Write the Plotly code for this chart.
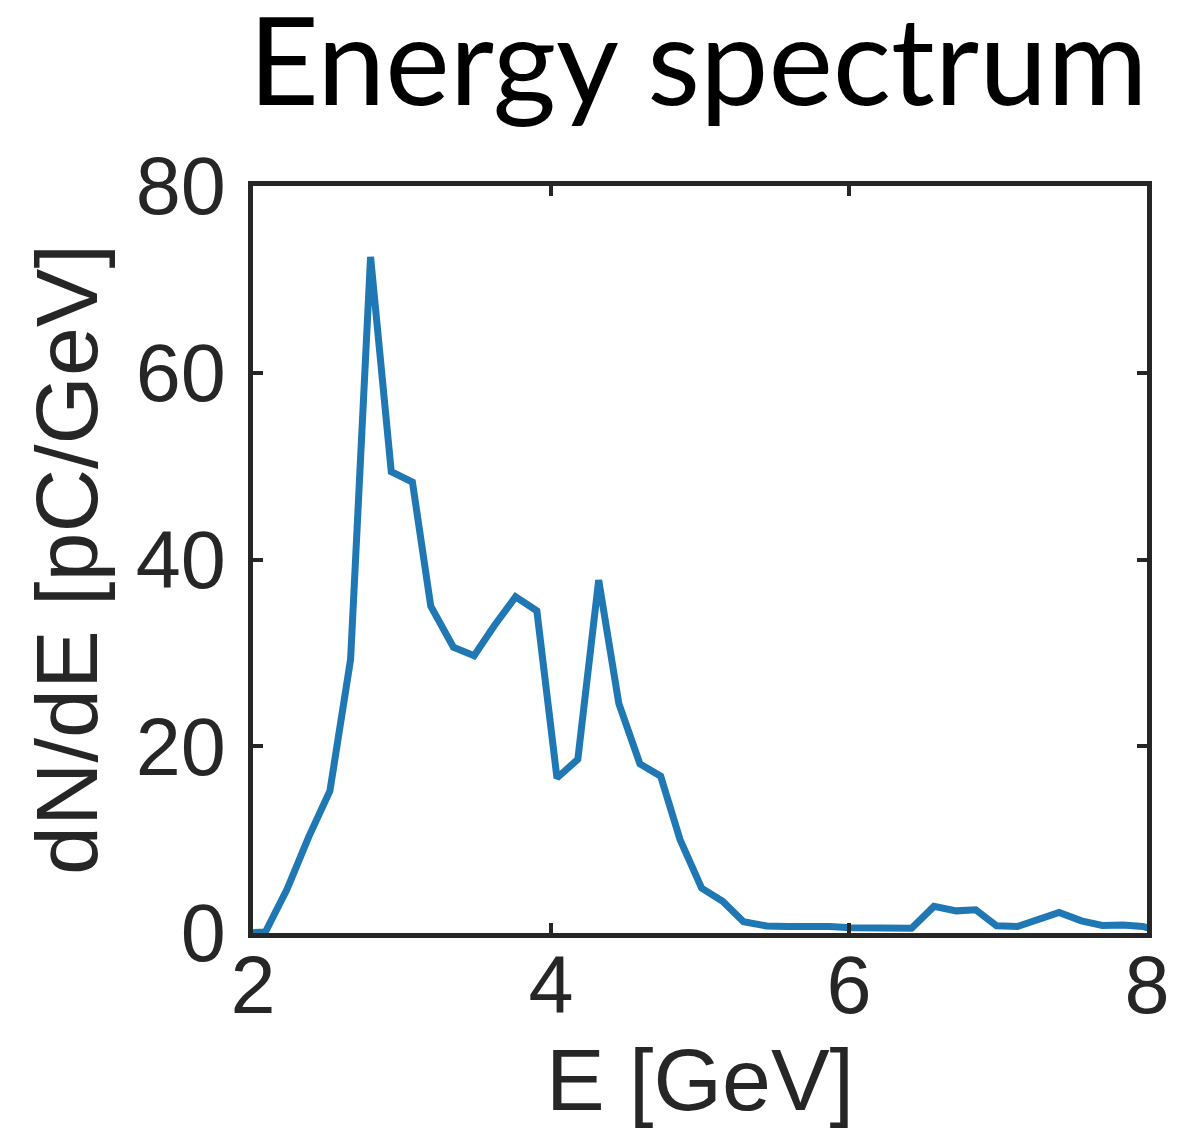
import plotly.graph_objects as go

energy_gev = [1.95, 2.083, 2.229, 2.374, 2.516, 2.655, 2.789, 2.928, 3.07, 3.193,
              3.345, 3.484, 3.619, 3.762, 3.905, 4.04, 4.18, 4.32, 4.455, 4.597,
              4.736, 4.866, 5.011, 5.152, 5.292, 5.448, 5.59, 5.73, 5.87, 6.01,
              6.15, 6.29, 6.42, 6.57, 6.72, 6.85, 6.99, 7.13, 7.27, 7.41,
              7.56, 7.70, 7.84, 7.97, 8.11]
dnde = [0.0, 0.1, 4.7, 10.3, 15.2, 29.3, 72.4, 49.4, 48.3, 35.0,
        30.6, 29.7, 32.9, 36.0, 34.5, 16.6, 18.6, 37.8, 24.6, 18.1,
        16.8, 10.0, 4.8, 3.4, 1.2, 0.75, 0.7, 0.78, 0.7, 0.55,
        0.48, 0.52, 0.52, 2.85, 2.37, 2.48, 0.78, 0.7, 1.44, 2.19,
        1.3, 0.81, 0.85, 0.7, 0.1]

x_ticks = [2, 4, 6, 8]
y_ticks = [0, 20, 40, 60, 80]

fig = go.Figure()
fig.add_trace(go.Scatter(x=energy_gev, y=dnde, mode="lines",
                         line=dict(color="#1f77b4", width=7),
                         showlegend=False))

axcol = "#262626"
fig.update_layout(
    width=1179, height=1139,
    margin=dict(l=253, r=32, t=186, b=206, autoexpand=False),
    paper_bgcolor="white", plot_bgcolor="white",
    title=dict(text="Energy spectrum", x=(253 + 1143) / 2 / 1179, xanchor="center",
               y=1 - 62 / 1139, yanchor="middle",
               font=dict(family="Lato", size=122, color="black")),
    font=dict(family="Liberation Sans, Arial", color=axcol),
)
fig.update_xaxes(range=[2, 8], tickvals=x_ticks, ticktext=[str(v) for v in x_ticks],
                 showgrid=False, zeroline=False, showline=True, linecolor=axcol,
                 linewidth=5, mirror="allticks", ticks="inside", ticklen=10,
                 tickwidth=4, tickcolor=axcol, automargin=False,
                 tickfont=dict(size=81, color=axcol), ticklabelstandoff=-22,
                 title=dict(text="E [GeV]", font=dict(size=88, color=axcol), standoff=20))
fig.update_yaxes(range=[0, 80], tickvals=y_ticks, ticktext=[str(v) for v in y_ticks],
                 showgrid=False, zeroline=False, showline=True, linecolor=axcol,
                 linewidth=5, mirror="allticks", ticks="inside", ticklen=10,
                 tickwidth=4, tickcolor=axcol, automargin=False,
                 tickfont=dict(size=81, color=axcol), ticklabelstandoff=6,
                 title=dict(text="dN/dE [pC/GeV]", font=dict(size=88, color=axcol), standoff=10))

fig.write_html("out.html")
